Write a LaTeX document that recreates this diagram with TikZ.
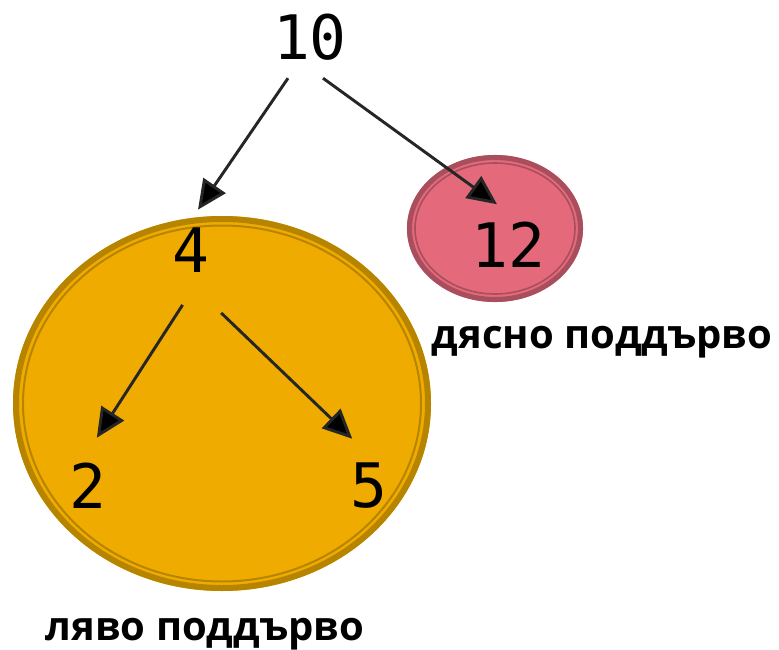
\documentclass[tikz,border=0pt]{standalone}
\usepackage{fontspec}
\setmainfont{Open Sans}
\newfontfamily\numfont{DejaVu Sans Mono}
\usetikzlibrary{arrows.meta}
\definecolor{leftfill}{HTML}{EFAB00}
\definecolor{leftline}{HTML}{B78400}
\definecolor{rightfill}{HTML}{E46A7B}
\definecolor{rightline}{HTML}{A94E5D}
\definecolor{edgegray}{HTML}{262626}
\tikzset{
  num/.style={font=\numfont\fontsize{46}{46}\selectfont, inner sep=0pt, outer sep=13.5pt},
  sublabel/.style={font=\bfseries\fontsize{30}{30}\selectfont, anchor=base},
  edge/.style={draw=edgegray, line width=2.2pt, -{Triangle[length=22pt, width=20pt, fill=black]}}
}
\begin{document}
\begin{tikzpicture}[x=0.75pt, y=-0.75pt]
    \useasboundingbox (0,0) rectangle (779,650);
    % subtrees
    \fill [leftfill] (222,403.5) ellipse [x radius=209, y radius=187.5];
    \draw [leftline, line width=4.5pt] (222,403.5) ellipse [x radius=206, y radius=184.5];
    \draw [leftline, line width=1.5pt] (222,403.5) ellipse [x radius=199, y radius=178];
    \fill [rightfill] (495,228.5) ellipse [x radius=88, y radius=73.5];
    \draw [rightline, line width=3.8pt] (495,228.5) ellipse [x radius=85.5, y radius=71];
    \draw [rightline, line width=1.2pt] (495,228.5) ellipse [x radius=80, y radius=65.5];
    % tree
    \node [num] (n10) at (310,37) {10};
    \node [num] (n4) at (191,250) {4};
    \node [num] (n12) at (508,245) {12};
    \node [num] (n2) at (88,486) {2};
    \node [num] (n5) at (369,486) {5};
    \draw [edge] ([xshift=-16.5pt]n10.south) -- ([xshift=5.25pt]n4.north);
    \draw [edge] ([xshift=9.75pt]n10.south) -- ([xshift=-8.25pt]n12.north);
    \draw [edge, shorten <=13pt, shorten >=6.7pt] ([xshift=0.75pt]n4.south) -- ([xshift=3pt]n2.north);
    \draw [edge, shorten <=24.4pt, shorten >=7pt] ([xshift=5pt]n4.south) -- ([xshift=-7.5pt]n5.north);
    \node [sublabel] (rlabel) at (602,348) {дясно поддърво};
    \node [sublabel] (llabel) at (205,640) {ляво поддърво};
\end{tikzpicture}
\end{document}
